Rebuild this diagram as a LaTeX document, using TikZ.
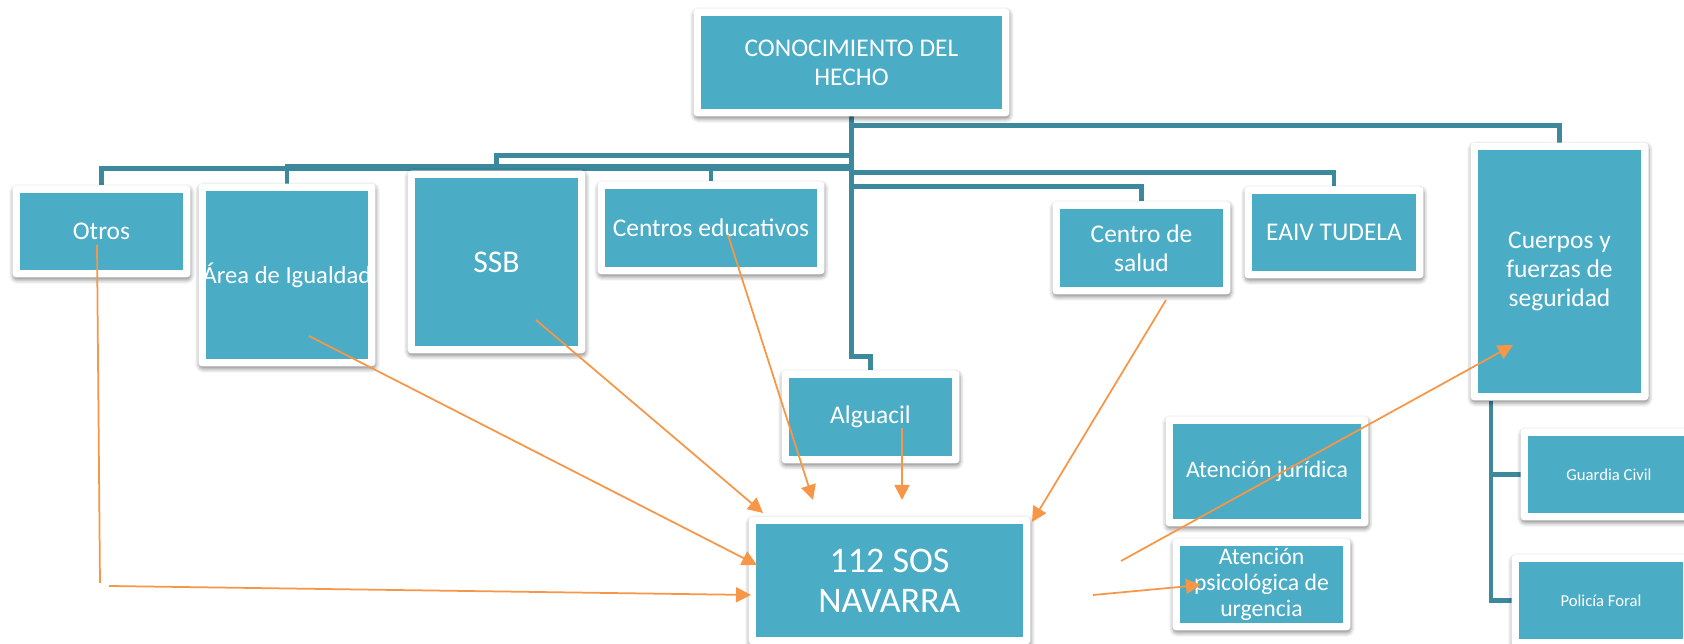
\documentclass[tikz,border=0pt]{standalone}
\usepackage{fontspec}
\setmainfont{Carlito}
\usetikzlibrary{shapes,arrows.meta,shadows.blur,backgrounds}
\definecolor{cajazul}{RGB}{75,172,198}
\definecolor{ramazul}{RGB}{60,137,157}
\definecolor{naranja}{RGB}{247,150,70}
\tikzstyle{caja}=[rectangle,fill=white,rounded corners=.08cm,inner sep=0pt,outer sep=0pt,text=white,align=center,font=\fontsize{14.5}{16.5}\selectfont,
  path picture={\fill[cajazul,sharp corners] ([shift={(.15cm,.15cm)}]path picture bounding box.south west) rectangle ([shift={(-.15cm,-.15cm)}]path picture bounding box.north east);},
  blur shadow={shadow xshift=.01cm,shadow yshift=-.05cm,shadow blur radius=.08cm,shadow opacity=45}]
\tikzstyle{rama}=[draw=ramazul,line width=.09cm]
\tikzstyle{flecha}=[draw=naranja,line width=.035cm,-{Triangle[length=.3cm,width=.3cm]}]

\begin{document}
\begin{tikzpicture}[x=.02cm,y=.02cm]
\useasboundingbox (0,0) rectangle (1684,644);
% cajas
\node[caja,minimum width=6.32cm,minimum height=2.16cm] (hecho) at (851.5,581.5) {CONOCIMIENTO DEL\\HECHO};
\node[caja,minimum width=3.56cm,minimum height=1.84cm] (otros) at (101.5,412.5) {Otros};
\node[caja,minimum width=3.54cm,minimum height=3.66cm,font=\fontsize{14}{16}\selectfont] (igualdad) at (287,369) {Área de Igualdad};
\node[caja,minimum width=3.56cm,minimum height=3.66cm,font=\fontsize{18}{20}\selectfont] (ssb) at (496.5,382) {SSB};
\node[caja,minimum width=4.54cm,minimum height=1.86cm] (centros) at (711,416) {Centros educativos};
\node[caja,minimum width=3.56cm,minimum height=1.86cm] (alguacil) at (870.5,227) {Alguacil};
\node[caja,minimum width=3.56cm,minimum height=1.86cm] (salud) at (1141.5,396) {Centro de\\salud};
\node[caja,minimum width=3.58cm,minimum height=1.84cm] (eaiv) at (1334,411.5) {EAIV TUDELA};
\node[caja,minimum width=3.56cm,minimum height=5.16cm] (cuerpos) at (1559.5,372.5) {Cuerpos y\\fuerzas de\\seguridad};
\node[caja,minimum width=5.64cm,minimum height=2.56cm,font=\fontsize{20.5}{22.8}\selectfont] (sos) at (889.5,63.5) {112 SOS\\NAVARRA};
\node[caja,minimum width=4.06cm,minimum height=2.20cm,font=\fontsize{13.5}{15}\selectfont] (juridica) at (1267,172.5) {Atención jurídica};
\node[caja,minimum width=3.56cm,minimum height=1.84cm,font=\fontsize{13.5}{15}\selectfont] (psico) at (1261.5,59.5) {Atención\\psicológica de\\urgencia};
\node[caja,minimum width=3.54cm,minimum height=1.84cm,font=\fontsize{9.5}{11}\selectfont] (guardia) at (1609,169.5) {Guardia Civil};
\node[caja,minimum width=3.58cm,minimum height=1.84cm,font=\fontsize{9.5}{11}\selectfont] (policia) at (1601,43.5) {Policía Foral};
% arbol
\coordinate (cfs) at (1491,243);
\begin{scope}[on background layer]
\draw[rama] (otros.north) -- ++(0,17) -| (hecho.south); \draw[rama] (igualdad.north) -- ++(0,17) -| (hecho.south); \draw[rama] (ssb.north) -- ++(0,15) -| (hecho.south); \draw[rama] (centros.north) -- ++(0,14) -| (hecho.south);
\draw[rama] (alguacil.north) -- ++(0,14) -| (hecho.south); \draw[rama] (salud.north) -- ++(0,15) -| (hecho.south); \draw[rama] (eaiv.north) -- ++(0,14) -| (hecho.south); \draw[rama] (cuerpos.north) -- ++(0,17) -| (hecho.south);
\draw[rama] (cfs) |- (guardia.west); \draw[rama] (cfs) |- (policia.west);
\end{scope}
% flechas
\coordinate (otros-a) at (97,399); \coordinate (otros-b) at (100,61); \coordinate (otros-c) at (109,58); \coordinate (sos-o) at (751,49);
\coordinate (igualdad-a) at (309,308); \coordinate (sos-i) at (757,79);
\coordinate (ssb-a) at (536,324); \coordinate (sos-s) at (763,131);
\coordinate (centros-a) at (728,409); \coordinate (sos-c) at (813,144);
\coordinate (alguacil-a) at (902,216); \coordinate (sos-a) at (902,144);
\coordinate (salud-a) at (1166,344); \coordinate (sos-d) at (1032,122);
\coordinate (sos-e) at (1121,83); \coordinate (cuerpos-a) at (1513,299);
\coordinate (sos-f) at (1093,49); \coordinate (psico-a) at (1201,59);
\draw[naranja,line width=.035cm] (otros-a) -- (otros-b); \draw[flecha] (otros-c) -- (sos-o);
\draw[flecha] (igualdad-a) -- (sos-i); \draw[flecha] (ssb-a) -- (sos-s); \draw[flecha] (centros-a) -- (sos-c); \draw[flecha] (alguacil-a) -- (sos-a); \draw[flecha] (salud-a) -- (sos-d);
\draw[flecha] (sos-e) -- (cuerpos-a); \draw[flecha] (sos-f) -- (psico-a);
\end{tikzpicture}
\end{document}
